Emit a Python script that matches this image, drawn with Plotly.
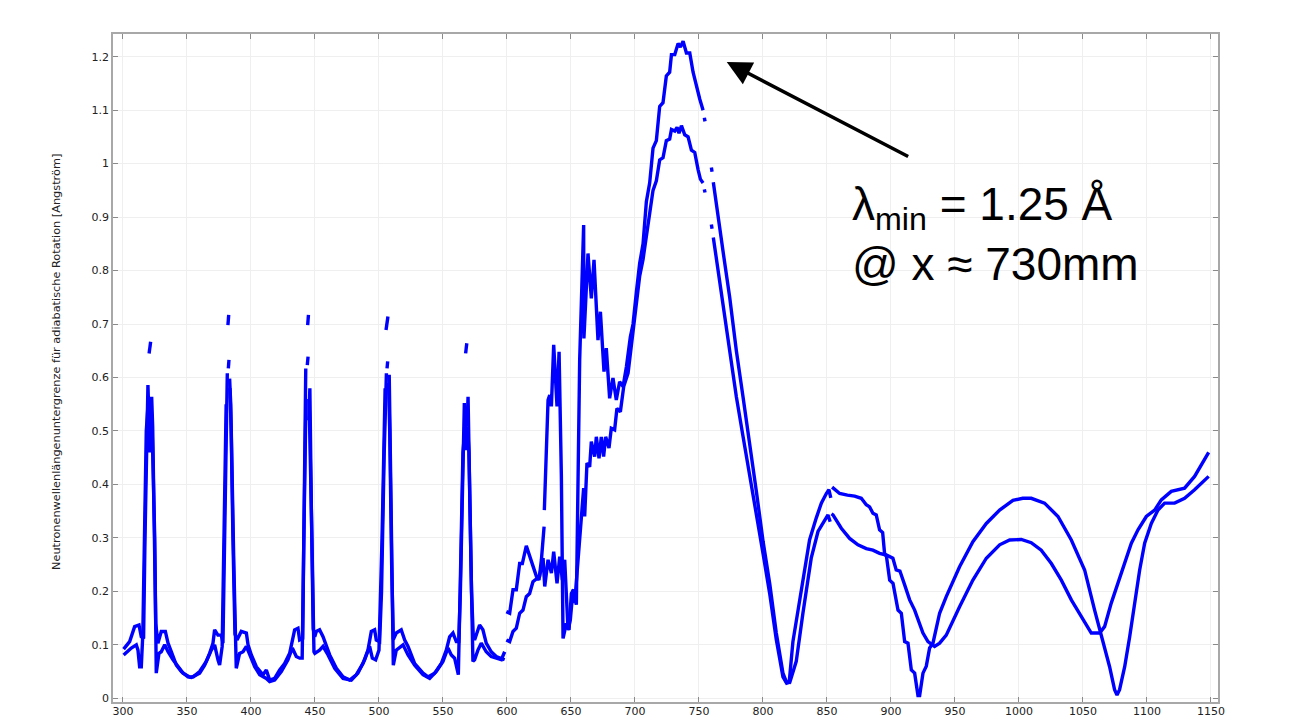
import plotly.graph_objects as go

GAP = (None, None)

# Series A (upper trace at the main peak), left part 300-600 mm
a_left = [(300.5,0.092),(305.2,0.106),(309.1,0.134),(312.5,0.137),(314.3,0.115),(316.1,0.112),
 (317.2,0.3),(318.6,0.5),(319.5,0.586),(320.3,0.52),(320.9,0.46),(321.6,0.50),(322.4,0.564),(323.2,0.508),
 (324.4,0.30),(325.6,0.14),(327.3,0.103),(329.9,0.125),(333.1,0.125),(335.2,0.103),(337.8,0.087),
 (341.7,0.062),(345.6,0.05),(350.8,0.04),(353.4,0.039),(357.3,0.044),(359.9,0.047),(363.8,0.062),
 (367.7,0.084),(370.3,0.103),(371.6,0.128),(374.2,0.118),(376.8,0.118),(378.1,0.103),(379.4,0.3),
 (380.5,0.5),(381.5,0.608),GAP,(382.3,0.617),(382.8,0.633),GAP,(383.3,0.598),(384.2,0.55),(385.9,0.3),
 (387.5,0.12),(389.1,0.109),(392.4,0.125),(396.4,0.122),(397.7,0.1),(400.3,0.081),(404.2,0.059),
 (409.4,0.044),(412,0.053),(414.6,0.034),(418.5,0.037),(422.4,0.053),(426.3,0.065),(430.2,0.084),
 (432.8,0.109),(434.1,0.128),(436.7,0.131),(438,0.109),(440.4,0.112),(441.5,0.3),(442.2,0.5),
 (442.8,0.617),GAP,(444,0.623),(444.6,0.639),GAP,(445.2,0.52),(446,0.58),(447.2,0.35),(448.6,0.13),
 (449.8,0.115),(451,0.125),(453.6,0.128),(456.3,0.115),(461.5,0.081),(466.7,0.056),(471.9,0.04),
 (477.1,0.034),(482.3,0.044),(487.5,0.065),(491.4,0.09),(494,0.125),(496.6,0.128),(497.9,0.109),
 (500.5,0.106),(502,0.2),(504,0.45),(505.8,0.608),GAP,(506.3,0.617),(506.8,0.63),GAP,(507.5,0.59),
 (508.4,0.5),(509.9,0.25),(511.2,0.11),(513.5,0.122),(517.4,0.128),(520.1,0.109),(522.7,0.097),
 (527.9,0.065),(534.4,0.047),(538.3,0.04),(543.5,0.047),(548.7,0.065),(552.6,0.09),(555.2,0.115),
 (557.8,0.122),(560.4,0.106),(562.3,0.106),(563.6,0.2),(565.1,0.4),(566.7,0.552),(567.5,0.508),
 (568.2,0.464),GAP,(568.8,0.508),(569.6,0.564),(570.8,0.4),(572.3,0.2),(573.6,0.12),(574.7,0.109),
 (578.6,0.137),(581.2,0.128),(583.8,0.103),(587.7,0.087),(591.6,0.078),(595.6,0.075),(598.2,0.072)]

# Series A, right part 600-1150 mm
a_right = [(599.5,0.162),(602.1,0.159),(604.7,0.203),(607.3,0.203),(609.9,0.252),(612,0.252),
 (615.1,0.285),(618.3,0.262),(620.3,0.252),(623,0.228),(625,0.221),(626.9,0.259),(629,0.321),GAP,
 (629.2,0.352),(630.8,0.477),(632.1,0.558),(633.4,0.567),(634.7,0.546),(636.5,0.661),(639.1,0.546),
 (640.7,0.648),(642.5,0.415),(643.8,0.112),(646.4,0.14),(648.5,0.128),(650.3,0.196),(652.1,0.203),
 (654.2,0.175),(656.8,0.633),(659.9,0.885),(660.1,0.673),(663.3,0.832),(665.9,0.748),(668,0.82),
 (671.1,0.67),(673,0.723),(675.8,0.611),(677.6,0.655),(680.2,0.561),(682.8,0.599),(685.4,0.558),
 (688,0.592),(690.7,0.583),(693.3,0.62),(696.4,0.676),(698.5,0.70),(701.1,0.76),(703.7,0.814),
 (706.3,0.85),(708.9,0.929),(711.5,0.964),(714.1,1.029),(716.7,1.043),(719.3,1.107),(721.9,1.114),
 (724.5,1.164),(727.1,1.171),(728.5,1.204),(731.1,1.204),(733.7,1.225),(735.5,1.218),(737.6,1.229),
 (740.2,1.207),(742.8,1.207),(745.4,1.171),(748,1.143),(750.6,1.121),(753.2,1.1),GAP,(754.2,1.086),
 (754.7,1.079),GAP,(759.7,0.993),(760.2,0.985),GAP,(761.2,0.965),(763.6,0.921),(768.8,0.836),
 (774,0.75),(779.2,0.65),(784.4,0.564),
 (789.6,0.479),(794.9,0.386),(800.1,0.293),(805.3,0.214),(810.4,0.122),(815.6,0.047),(818.2,0.031),
 (820.5,0.03),(823.4,0.106),(828.6,0.18),(832.5,0.24),(836.4,0.296),(841.6,0.337),(845.6,0.365),
 (849.5,0.383),(851.5,0.39),(853,0.375),GAP,(854,0.395),(855,0.393),(859.9,0.383),(866,0.38),
 (871.6,0.378),(876.8,0.374),(880.7,0.362),(883.3,0.358),(885.9,0.346),(888.5,0.343),(891.1,0.315),
 (893.5,0.31),(895,0.271),(896.5,0.265),(899,0.221),(901.6,0.215),(905.5,0.165),(908.1,0.159),
 (910.7,0.106),(913.3,0.103),(915.9,0.053),(918.5,0.047),(921.1,0.005),(922.4,0.005),(925,0.047),
 (927.6,0.06),(930.2,0.094),(932.8,0.103),(938,0.159),(943.2,0.19),(953.6,0.246),(964,0.293),
 (974.5,0.327),(984.9,0.352),(995.3,0.37),(1003,0.374),(1009.6,0.374),(1020,0.365),(1030.5,0.34),
 (1040.9,0.296),(1051.3,0.24),(1059.1,0.165),(1065.6,0.109),(1070.8,0.059),(1074.7,0.016),
 (1076.6,0.006),(1078.6,0.016),(1082.6,0.059),(1086.5,0.115),(1090.4,0.178),(1094.3,0.24),
 (1098.2,0.29),(1103.4,0.327),(1108.6,0.352),(1113.8,0.365),(1121.6,0.365),(1129.4,0.374),
 (1137.2,0.39),(1142.4,0.402),(1148.2,0.415)]

# Series B (lower trace at the main peak), left part
b_left = [(300.5,0.081),(306.5,0.094),(310.4,0.1),(311.7,0.09),(313,0.059),(314.3,0.059),(315.5,0.12),
 (316.6,0.3),(318.2,0.5),(319.6,0.55),GAP,(320.4,0.645),(321.0,0.66),(321.6,0.667),GAP,
 (321.9,0.55),(322.8,0.5),(324.8,0.3),(326,0.047),(328.1,0.084),(329.9,0.087),(332.6,0.1),
 (335.2,0.087),(339.1,0.072),(343,0.059),(346.9,0.047),(352.1,0.04),(355,0.04),(359.9,0.05),
 (365.1,0.069),(369,0.09),(371.6,0.1),(374.2,0.072),(375.5,0.062),(377.5,0.097),(378.8,0.3),
 (380.6,0.55),GAP,(382,0.698),(382.6,0.717),GAP,(383.5,0.58),(384.6,0.5),(386.6,0.25),(388.5,0.056),
 (391.1,0.084),(393.8,0.087),(396.4,0.097),(399,0.081),(402.9,0.059),(406.8,0.044),(412,0.037),
 (414.6,0.031),(418.5,0.034),(423.7,0.05),(428.9,0.072),(432.3,0.094),(435.4,0.078),(438,0.075),
 (440,0.075),(441.3,0.3),(443,0.56),GAP,(444.3,0.698),(444.9,0.717),GAP,(445.4,0.56),(446,0.5),
 (447.6,0.3),(449.2,0.087),(449.9,0.084),(453.6,0.09),(456.3,0.097),(460.2,0.081),(465.4,0.056),
 (471.9,0.037),(478.4,0.034),(483.6,0.047),(488.8,0.072),(492.7,0.097),(494.8,0.075),(497.4,0.072),
 (500,0.09),(502.4,0.3),(504.8,0.58),GAP,(505.5,0.689),(506.3,0.705),(507,0.714),GAP,(508,0.605),
 (509,0.45),(510.4,0.2),(511.2,0.062),(513.5,0.09),(516.1,0.094),(518.8,0.1),(522.7,0.081),
 (527.9,0.062),(534.4,0.044),(539.6,0.037),(544.8,0.05),(550,0.069),(553.9,0.094),(556.5,0.081),
 (559.1,0.075),(560.4,0.059),(562,0.044),(563.4,0.2),(565.6,0.46),(567.3,0.508),GAP,(567.7,0.645),
 (568.2,0.655),(568.6,0.664),GAP,(569.2,0.508),(570.3,0.46),(571.9,0.25),(573.4,0.069),(574.7,0.072),
 (577.3,0.09),(579.9,0.103),(583.8,0.087),(587.7,0.078),(591.6,0.075),(595.6,0.072),(598.2,0.087)]

# Series B, right part
b_right = [(599.5,0.109),(602.1,0.106),(604.7,0.125),(607.3,0.131),(609.9,0.159),(612.5,0.165),
 (615.1,0.19),(617.7,0.196),(620.3,0.218),(623,0.224),(625.5,0.228),(628.2,0.262),(629.5,0.209),
 (632.1,0.259),(634.7,0.234),(636.5,0.274),(639.1,0.215),(641.2,0.265),(643.3,0.221),(645.1,0.259),
 (647.7,0.128),(649.5,0.147),(651.6,0.203),(652.9,0.178),(655.5,0.259),(658.1,0.352),(659.9,0.393),
 (660.7,0.34),(662.5,0.44),(664.6,0.433),(665.9,0.48),(668.5,0.452),(669.8,0.489),(671.9,0.449),
 (673.7,0.489),(675.5,0.452),(677.1,0.489),(679.7,0.468),(681.5,0.505),(684.1,0.502),(685.9,0.542),
 (688.6,0.536),(691.2,0.583),(694.6,0.608),(697.2,0.663),(701.1,0.74),(703.7,0.79),(706.3,0.821),
 (708.9,0.861),(711.5,0.907),(714.1,0.95),(716.7,0.968),(719.3,1.007),(721.9,1.011),(724.5,1.043),
 (727.1,1.046),(728.5,1.064),(731.1,1.061),(732.9,1.068),(734.4,1.057),(736.3,1.071),(738.9,1.054),
 (741.5,1.05),(744.1,1.025),(746.7,1.021),(749.3,0.989),(751.1,0.971),(753.2,0.964),GAP,
 (754.2,0.952),(754.7,0.946),GAP,(759.7,0.886),(760.2,0.878),GAP,(761.2,0.862),(763.6,0.821),
 (768.8,0.736),(774,0.65),(779.2,0.564),
 (784.4,0.49),(789.6,0.42),(794.9,0.345),(800.1,0.27),(805.3,0.195),(810.4,0.11),(815.6,0.04),
 (818.5,0.028),(821,0.03),(826,0.069),(831.2,0.159),(837.7,0.262),(843,0.312),(846.9,0.327),
 (850.8,0.343),(852.5,0.33),GAP,(853.5,0.345),(854.7,0.343),(861.2,0.318),(867.7,0.299),(874.2,0.287),
 (880.7,0.28),(885.9,0.277),(891.1,0.271),(896.3,0.268),(901.5,0.262),(904.1,0.24),(907,0.238),
 (910.7,0.212),(914.6,0.184),(918.5,0.165),(921.1,0.147),(925,0.122),(928.9,0.106),(934.1,0.097),
 (938,0.103),(943.2,0.118),(953.6,0.171),(964,0.221),(974.5,0.262),(984.9,0.287),(992.7,0.296),
 (1001.8,0.297),(1009.6,0.291),(1017.4,0.277),(1025.3,0.252),(1033.1,0.221),(1040.9,0.184),
 (1048.7,0.153),(1056.5,0.122),(1063,0.122),(1066.9,0.134),(1072.1,0.178),(1077.3,0.215),
 (1082.6,0.252),(1087.8,0.29),(1093,0.315),(1099.5,0.34),(1106,0.352),(1111.2,0.371),(1119,0.387),
 (1129.4,0.393),(1137.2,0.415),(1143.7,0.443),(1148.2,0.46)]

x_ticks = list(range(300, 1151, 50))
y_ticks = [0, 0.1, 0.2, 0.3, 0.4, 0.5, 0.6, 0.7, 0.8, 0.9, 1.0, 1.1, 1.2]
y_tick_text = ["0", "0.1", "0.2", "0.3", "0.4", "0.5", "0.6", "0.7", "0.8", "0.9", "1", "1.1", "1.2"]

y_title = "Neutronenwellenlängenuntergrenze für adiabatische Rotation [Angström]"
label_text = "λ<sub>min</sub> = 1.25 Å<br>@ x ≈ 730mm"
arrow_tip = (771.7, 1.19)
arrow_tail = (914.6, 1.012)


def series(*parts):
    xs, ys = [], []
    for i, part in enumerate(parts):
        if i > 0:
            xs.append(None)
            ys.append(None)
        for x, y in part:
            xs.append(x)
            ys.append(y)
    return xs, ys


fig = go.Figure()
for parts in [(a_left, a_right), (b_left, b_right)]:
    xs, ys = series(*parts)
    fig.add_trace(go.Scatter(x=xs, y=ys, mode="lines",
                             line=dict(color="#0000ff", width=3.4),
                             connectgaps=False, showlegend=False, hoverinfo="skip"))

axis_common = dict(
    showline=True, linecolor="#a8a8a8", linewidth=1.5, mirror="ticks",
    ticks="inside", ticklen=5, tickwidth=1, tickcolor="#8a8a8a",
    showgrid=True, gridcolor="#efefef", gridwidth=1, zeroline=False,
    tickfont=dict(family="DejaVu Sans", size=11, color="#222222"),
    automargin=False,
)

# The page body has an 8px margin, so the figure is sized and offset to compensate.
fig.update_layout(
    width=1282, height=710,
    margin=dict(l=105, r=72, t=26, b=16),
    paper_bgcolor="white", plot_bgcolor="white",
    xaxis=dict(range=[292.2, 1155.5], tickvals=x_ticks, ticklabelstandoff=-2, **axis_common),
    yaxis=dict(range=[-0.007, 1.2425], tickvals=y_ticks, ticktext=y_tick_text, **axis_common),
    annotations=[
        dict(text=y_title, xref="paper", yref="paper", x=-0.0507, y=0.509,
             textangle=-90, showarrow=False, xanchor="center", yanchor="middle",
             font=dict(family="DejaVu Sans", size=11.3, color="#222222")),
        dict(text="", x=arrow_tip[0], y=arrow_tip[1], ax=arrow_tail[0], ay=arrow_tail[1],
             xref="x", yref="y", axref="x", ayref="y", showarrow=True,
             arrowhead=2, arrowsize=1.4, arrowwidth=3.5, arrowcolor="black"),
        dict(text=label_text, x=867.7, y=0.868, xref="x", yref="y", showarrow=False,
             xanchor="left", yanchor="middle", align="left",
             font=dict(family="Liberation Sans", size=46, color="black")),
    ],
)

fig.write_html("out.html")
